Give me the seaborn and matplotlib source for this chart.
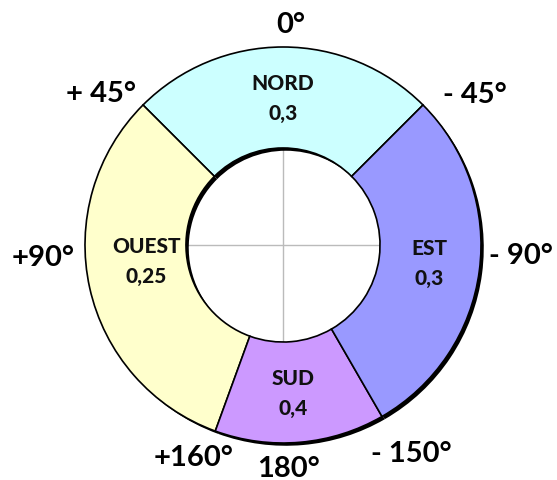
import matplotlib
matplotlib.use("Agg")
import matplotlib.pyplot as plt
import seaborn as sns
import numpy as np

# Data
sectors = ["NORD", "OUEST", "SUD", "EST"]
spans_deg = [90, 115, 50, 105]          # angular extent of each sector
coefs = ["0,3", "0,25", "0,4", "0,3"]
colors = ["#CCFFFF", "#FFFFCC", "#CC99FF", "#9999FF"]
angle_labels = ["0°", "+ 45°", "- 45°", "+90°", "- 90°", "+160°", "180°", "- 150°"]
angle_pos = [(0.04, 1.115), (-0.92, 0.77), (0.97, 0.765), (-1.21, -0.06),
             (1.20, -0.05), (-0.45, -1.07), (0.03, -1.125), (0.65, -1.05)]
label_pos = [(0.0, 0.745), (-0.69, -0.08), (0.05, -0.745), (0.74, -0.09)]

sns.set_theme(style="white")
plt.rcParams["font.family"] = ["Lato", "DejaVu Sans"]

fig = plt.figure(figsize=(5.57, 4.81), dpi=100)
ax = fig.add_axes([0, 0, 1, 1])

R_IN = 0.49
W = 1 - R_IN

# hole crosshair
ax.plot([-R_IN, R_IN], [0, 0], color="#BBBBBB", lw=1, zorder=0)
ax.plot([0, 0], [-R_IN, R_IN], color="#BBBBBB", lw=1, zorder=0)

# shadow
ax.pie(spans_deg, startangle=45, counterclock=True, colors=["black"] * 4,
       center=(0.014, -0.014), radius=1.0,
       wedgeprops=dict(width=W, linewidth=0))
# donut
wedges, _ = ax.pie(spans_deg, startangle=45, counterclock=True, colors=colors,
                   radius=1.0, wedgeprops=dict(width=W, edgecolor="black", linewidth=1.2))

for name, c, (x, y) in zip(sectors, coefs, label_pos):
    ax.text(x, y + 0.075, name, ha="center", va="center", fontsize=15, fontweight=900, color="#111111")
    ax.text(x, y - 0.075, c, ha="center", va="center", fontsize=15, fontweight=900, color="#111111")

for t, (x, y) in zip(angle_labels, angle_pos):
    ax.text(x, y, t, ha="center", va="center", fontsize=21, fontweight="bold", color="black")

ax.set_xlim(-283 / 198, (557 - 283) / 198)
ax.set_ylim(-235 / 198, 246 / 198)
ax.set_aspect("auto")
ax.axis("off")

fig.savefig("out.png", dpi=100)
